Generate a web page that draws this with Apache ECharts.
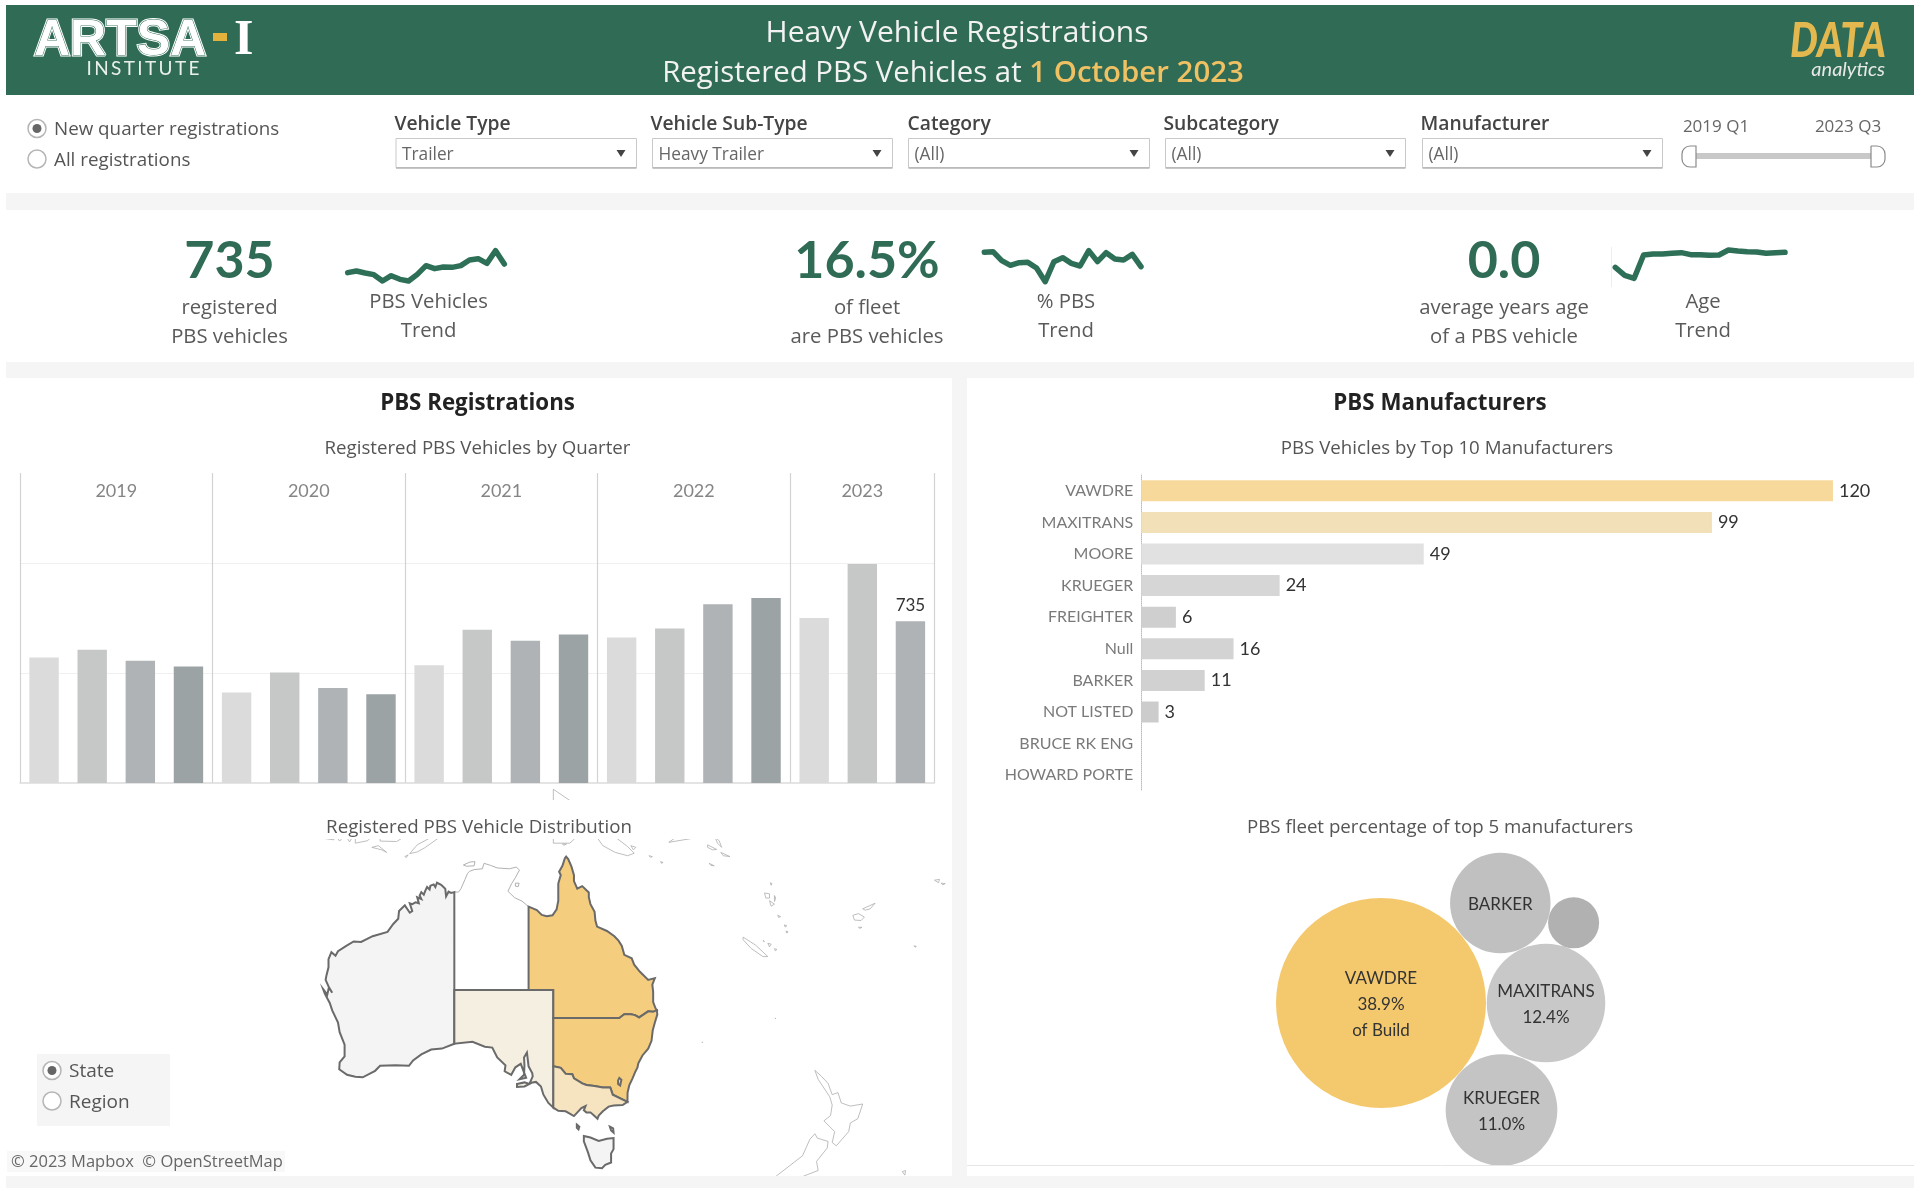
<!DOCTYPE html>
<html><head><meta charset="utf-8"><title>Heavy Vehicle Registrations</title>
<style>html,body{margin:0;padding:0;background:#fff}#c{width:1914px;height:1188px}</style>
<script src="https://cdn.jsdelivr.net/npm/echarts@6/dist/echarts.min.js"></script></head>
<body><div id="c"></div>
<script>
// ---- data ----
const quarters = ['2019 Q1','2019 Q2','2019 Q3','2019 Q4','2020 Q1','2020 Q2','2020 Q3','2020 Q4','2021 Q1','2021 Q2','2021 Q3','2021 Q4','2022 Q1','2022 Q2','2022 Q3','2022 Q4','2023 Q1','2023 Q2','2023 Q3'];
const registrations = [570,606,556,529,411,502,432,403,535,696,647,675,661,702,813,841,750,995,735];
const quarterColors = ['#dbdbdb','#c6c8c7','#afb3b5','#9ba3a4'];
const years = ['2019','2020','2021','2022','2023'];
const yearCentres = [2,6,10,14,17.5];
const makers = ['VAWDRE','MAXITRANS','MOORE','KRUEGER','FREIGHTER','Null','BARKER','NOT LISTED','BRUCE RK ENG','HOWARD PORTE'];
const makerCounts = [120,99,49,24,6,16,11,3,null,null];
const makerColors = ['#f7da9b','#f2e0b8','#e1e1e1','#d6d6d6','#cfcfcf','#d3d3d3','#d1d1d1','#cccccc','#ccc','#ccc'];
const bubbleNames = ['VAWDRE','MAXITRANS','KRUEGER','BARKER',''];
const bubbleShare = [38.9,12.4,11.0,8.9,2.3];
const bubbleX = [0,165,120.5,119.3,192.6];
const bubbleY = [0,0,-107,100,80.2];
const bubbleColors = ['#f4c96e','#c8c8c8','#c4c4c4','#c0c0c0','#b1b1b1'];
const trendVehicles = [52,57,51,46,27,43,32,27,47,73,64,69,68,73,90,94,80,118,78];
const trendPercent = [113,115,88,74,82,83,66,25,85,97,80,72,118,85,112,93,90,107,70];
const trendAge = [68,44,35,105,108,108,110,112,106,106,104,105,120,117,115,114,110,112,113];
const stateNames = ['Northern Territory','Western Australia','South Australia','Queensland','New South Wales','Victoria','Tasmania','ACT'];
const stateFills = ['#ffffff','#f4f4f5','#f5efe2','#f5cd7e','#f5cd7e','#f5e4bf','#f4f4f4','#f6e3b4'];
const mapOutlines = {
 'Northern Territory':[[[129,-14.9],[129.5,-14.9],[129.8,-14.5],[130.3,-13.4],[130.6,-12.7],[130.85,-12.45],[131.4,-12.25],[132.4,-12.15],[132.6,-11.5],[133.4,-11.75],[134.2,-12.05],[134.9,-12.1],[135.7,-12.15],[136.5,-11.95],[136.9,-12.3],[136.4,-13.2],[135.95,-13.9],[135.5,-14.8],[136.3,-15.55],[137.2,-15.95],[138,-16.6],[138,-26],[129,-26]],
   [[130.1,-11.7],[130.9,-11.35],[131.5,-11.3],[131.4,-11.8],[130.5,-11.85]],[[136.4,-13.85],[136.85,-13.85],[136.75,-14.25],[136.4,-14.2]]],
 'Western Australia':[[[129,-14.9],[128.6,-15],[128.3,-14.85],[128,-15.4],[127.9,-14.5],[127.4,-14.05],[126.9,-13.8],[126.7,-14.3],[126.5,-14],[126.1,-14.15],[126,-14.6],[125.7,-14.3],[125.5,-14.7],[125.3,-15.2],[125,-14.9],[124.8,-15.3],[125,-15.7],[124.5,-15.5],[124.7,-16.2],[124.3,-16.1],[123.9,-16.3],[123.6,-16.2],[123.9,-17.1],[123.6,-17.3],[123,-16.45],[122.3,-17.1],[122.2,-18],[121.6,-18.6],[120.9,-19.5],[119.1,-20],[117.7,-20.65],[116.8,-20.6],[115.9,-21.1],[114.9,-21.7],[114.6,-22.2],[114.1,-21.8],[113.75,-22.6],[113.75,-23.5],[113.5,-24.4],[113.4,-24.9],[113.9,-25.9],[114.2,-26.3],[113.8,-25.7],[113.6,-26.5],[113.1,-25.9],[113.3,-26.4],[113.9,-27.4],[114.2,-28.2],[114.9,-29.5],[115.1,-30.5],[115.7,-31.8],[115.7,-33],[115.1,-33.6],[115.05,-34.3],[116,-34.85],[117,-35.05],[117.9,-35.1],[119.4,-34.45],[120,-33.95],[121.9,-33.9],[123.5,-33.95],[124,-33.4],[125,-32.8],[126.2,-32.3],[127.5,-32.2],[129,-31.7]]],
 'South Australia':[[[129,-26],[141,-26],[141,-38.05],[140.4,-37.6],[139.8,-36.8],[139.5,-36],[138.9,-35.55],[138.15,-35.65],[138.5,-35],[138.45,-34.7],[138,-34],[137.8,-32.6],[137.45,-33.1],[137.5,-33.9],[137.45,-34.85],[136.9,-35.3],[137.7,-35.15],[137.05,-33.75],[136.4,-34.1],[135.9,-34.85],[135.1,-34.5],[135.2,-33.9],[134.2,-33.1],[133.6,-32.1],[132.7,-32],[131.2,-31.5],[129,-31.7]],
   [[136.6,-35.75],[137.5,-35.6],[138.1,-35.75],[137.5,-36],[136.6,-36.05]]],
 'Queensland':[[[138,-16.6],[139,-17],[139.6,-17.55],[140.2,-17.7],[140.9,-17.6],[141.4,-16.9],[141.6,-15.9],[141.6,-14.9],[141.6,-13.9],[141.9,-12.9],[141.7,-12.5],[142.1,-11.8],[142.4,-10.9],[142.55,-10.7],[142.8,-11],[143.2,-11.9],[143.5,-12.9],[143.5,-13.6],[143.9,-14.5],[144.5,-14.2],[145.3,-14.95],[145.3,-15.5],[145.5,-16.3],[146,-17.2],[146.1,-18.2],[146.3,-18.9],[147.5,-19.4],[148.4,-20],[148.9,-20.5],[149.3,-21.1],[149.6,-22.1],[150.5,-22.5],[150.8,-23.2],[151.5,-24],[152.5,-24.9],[153.3,-24.7],[153,-25.4],[153.1,-26.2],[153.1,-27.3],[153.4,-28],[153.55,-28.17],[153.1,-28.35],[152.5,-28.3],[152,-28.6],[151.4,-28.95],[150.9,-28.7],[150.4,-28.6],[149.6,-28.6],[149,-29],[141,-29],[141,-26],[138,-26]]],
 'New South Wales':[[[153.55,-28.17],[153.6,-28.65],[153.3,-29.5],[153.05,-30.3],[152.9,-31.4],[152.5,-32.2],[151.8,-32.9],[151.3,-33.7],[151.2,-34.1],[150.9,-34.6],[150.6,-35.2],[150.2,-35.9],[150,-36.6],[149.98,-37.5],[148.2,-36.8],[147.9,-36.1],[147,-36.1],[146,-35.95],[145,-35.85],[144.5,-35.7],[143.5,-35.2],[143.3,-34.8],[142.5,-34.75],[141.9,-34.15],[141,-34],[141,-29],[149,-29],[149.6,-28.6],[150.4,-28.6],[150.9,-28.7],[151.4,-28.95],[152,-28.6],[152.5,-28.3],[153.1,-28.35]]],
 'Victoria':[[[141,-34],[141.9,-34.15],[142.5,-34.75],[143.3,-34.8],[143.5,-35.2],[144.5,-35.7],[145,-35.85],[146,-35.95],[147,-36.1],[147.9,-36.1],[148.2,-36.8],[149.98,-37.5],[149.4,-37.8],[148.3,-37.85],[147.7,-37.95],[147,-38.4],[146.5,-38.8],[146.35,-39.1],[146,-38.85],[145.5,-38.5],[145,-38.5],[144.7,-38.3],[144.9,-37.9],[144.4,-38.1],[143.5,-38.85],[142.5,-38.4],[141.6,-38.35],[141,-38.05]]],
 'Tasmania':[[[144.7,-40.7],[145.5,-40.85],[146.5,-41.15],[147.5,-40.95],[148.3,-40.9],[148.3,-41.9],[148,-42.3],[148,-43.1],[147.3,-43.3],[146.9,-43.6],[146.1,-43.55],[145.5,-42.9],[145.2,-42.2],[144.7,-41.2]],
   [[143.85,-39.65],[144.15,-39.85],[144.05,-40.1],[143.85,-39.95]],[[147.85,-39.85],[148.25,-40],[148.3,-40.4],[148,-40.2]]],
 'ACT':[[[149,-35.15],[149.25,-35.35],[149.1,-35.9],[148.85,-35.75],[148.85,-35.4]]]
};
const otherLand = [
 [[172.7,-34.4],[173.5,-35],[174.3,-35.7],[174.8,-36.8],[175.5,-36.6],[175.9,-37.6],[177,-37.9],[178.5,-37.7],[177.9,-39.1],[177,-39.5],[176.8,-40.3],[175.3,-41.6],[174.8,-41.3],[175.1,-40.3],[173.8,-39.3],[174.6,-38.8],[174.8,-37.8],[174.5,-37],[173.1,-35.3]],
 [[172.7,-40.5],[173,-40.9],[174.3,-41.2],[174.2,-41.8],[172.9,-43],[173.1,-43.8],[171.3,-44.3],[170.7,-45.9],[169,-46.65],[167.5,-46.3],[166.5,-46],[168,-44.3],[171.2,-42.5],[172.1,-41]],
 [[183.3,-43.9],[183.7,-43.8],[183.6,-44.2]],
 [[164,-20.1],[165.5,-21],[167,-22.3],[166.4,-22.3],[165,-21.4],[164,-20.4]],
 [[167,-20.8],[167.4,-20.9],[167.2,-21.2]],[[167.8,-21.4],[168.1,-21.5],[167.9,-21.65]],[[166.4,-20.5],[166.6,-20.6],[166.5,-20.7]],
 [[166.6,-15],[167.2,-15.1],[167.2,-15.6],[166.75,-15.6]],[[167.2,-15.9],[167.8,-16.3],[167.4,-16.55]],[[168.2,-17.6],[168.55,-17.75],[168.3,-17.85]],[[169.2,-19.4],[169.45,-19.5],[169.3,-19.65]],[[169,-18.7],[169.3,-18.8],[169.1,-18.95]],[[167.8,-15.3],[167.95,-15.6],[167.8,-16]],[[167.3,-13.8],[167.5,-13.9],[167.4,-14.1]],
 [[177.3,-17.6],[178,-17.4],[178.7,-17.8],[178.3,-18.2],[177.5,-18.15]],[[178.5,-16.85],[179.3,-16.5],[180,-16.2],[179.4,-16.85],[178.8,-17]],[[178,-18.95],[178.4,-19],[178.1,-19.1]],
 [[187.2,-13.5],[187.8,-13.4],[187.7,-13.8]],[[188,-13.85],[188.5,-13.9],[188.2,-14.05]],[[184.7,-21.1],[185,-21.15],[184.85,-21.25]],
 [[159.7,-9.3],[160.8,-9.85],[160.3,-9.9],[159.7,-9.6]],[[160.6,-8.4],[161.1,-8.8],[161.4,-9.6],[160.9,-9.1]],[[161.3,-10.2],[162.4,-10.7],[161.6,-10.6]],[[159.9,-11.5],[160.5,-11.8],[160.1,-11.75]],[[155,-9],[158,-8.5],[159,-8],[157,-7.6]],
 [[141,-9.1],[143,-9.1],[144.5,-7.7],[146,-8],[147,-9.4],[148.5,-10.2],[150,-10.6],[150.8,-10.3],[150,-9.5],[148,-8],[146,-6],[141,-2.6]],
 [[142.1,-9.2],[142.6,-9.2],[142.3,-9.35]],[[152.6,-10.6],[153,-10.7],[152.8,-10.8]],[[154,-11.3],[154.3,-11.4],[154.1,-11.5]],[[150.4,-9.4],[151,-9.6],[150.7,-9.9]],
 [[123.6,-10.35],[124.5,-10.15],[125.5,-9.6],[127.2,-8.4],[126,-8.5],[124.5,-9.3]],[[119,-9.6],[120.2,-9.9],[120.8,-10.2],[119.8,-9.4]],[[123,-10.7],[123.4,-10.5],[123.2,-10.8]],[[120,-8.3],[123,-8.3],[122,-8.9],[120,-8.85]],[[117,-8.3],[119,-8.3],[118.5,-8.8],[117,-9.1]],[[115.9,-8.3],[116.7,-8.3],[116.3,-8.95]],[[114.5,-8.1],[115.6,-8.3],[115.1,-8.85]],[[106,-6],[114.5,-7.5],[114.4,-8.7],[108,-7.8]],
 [[159.05,-31.5],[159.12,-31.55],[159.06,-31.6]],[[167.9,-29],[168,-29.05],[167.95,-29.1]],[[158.9,-54.6],[159,-54.7],[158.9,-54.8]]
];
// ---- palette and fonts ----
const GREEN='#2f6b55', GOLD='#f0c163', FONT='"Open Sans", sans-serif', LATO='Lato, sans-serif';
const merc = lat => Math.log(Math.tan(Math.PI/4+lat*Math.PI/360))*180/Math.PI;
const imerc = y => (2*Math.atan(Math.exp(y*Math.PI/180))-Math.PI/2)*180/Math.PI;
echarts.registerMap('oceania',{type:'FeatureCollection',features:
 [{type:'Feature',properties:{name:'Other'},geometry:{type:'MultiPolygon',coordinates:otherLand.map(r=>[r.concat([r[0]])])}}]
 .concat(stateNames.map(n=>({type:'Feature',properties:{name:n},geometry:{type:'MultiPolygon',coordinates:mapOutlines[n].map(r=>[r.concat([r[0]])])}})))});
// ---- graphic helpers ----
const els=[];
function T(text,x,y,o={}){const f=o.f||FONT;els.push({type:'text',silent:true,z:o.z||20,x,y:y+(f===FONT?2:0),scaleX:o.sx||1,style:{text,x:0,y:0,fill:o.c||'#555',align:o.a||'center',verticalAlign:'middle',
  font:`${o.it?'italic ':''}${o.w||400} ${o.s||18.7}px ${f}`,rich:o.rich,stroke:o.st,lineWidth:o.lw||0}});}
function R(x,y,w,h,fill,z=5,o={}){els.push({type:'rect',silent:true,z,shape:{x,y,width:w,height:h,r:o.r||0},style:{fill,stroke:o.st,lineWidth:o.lw||0}});}
function Radio(x,y,on){els.push({type:'circle',silent:true,z:20,shape:{cx:x,cy:y,r:9},style:{fill:'#fff',stroke:'#b5b5b5',lineWidth:1.5}});
  if(on)els.push({type:'circle',silent:true,z:21,shape:{cx:x,cy:y,r:4.5},style:{fill:'#666'}});}
function Line(x1,y1,x2,y2,c,lw,z=6){els.push({type:'line',silent:true,z,shape:{x1,y1,x2,y2},style:{stroke:c,lineWidth:lw}});}
// page bands
R(0,800,952,39,'#fff',4);
R(6,193,1908,17,'#f5f5f5'); R(6,362,1908,16,'#f5f5f5'); R(6,1176,1908,12,'#f5f5f5'); R(952,378,15,798,'#f5f5f5');
Line(967,1165.5,1914,1165.5,'#e6e6e6',1);
// header
R(6,5,1908,90,GREEN,6);
const logo={s:50,w:700,f:'"Liberation Sans", sans-serif',a:'left'};
T('ARTSA',34,41,{...logo,c:'#fff',st:'#fff',lw:3});
T('ARTSA',34,41,{...logo,c:'#fff',st:GREEN,lw:1,z:21});
R(213,33,14,8,'#e3b23c',20);
T('I',234,41,{...logo,f:'"Liberation Serif", serif',c:'#fff'});
T('I\u2009N\u2009S\u2009T\u2009I\u2009T\u2009U\u2009T\u2009E',143,69,{s:19,c:'#e9f0ec',f:LATO});
T('Heavy Vehicle Registrations',957,31,{s:30,c:'#f2f2f2'});
T('{w|Registered PBS Vehicles at }{g|1 October 2023}',953,72,{s:29.4,rich:{w:{fill:'#f2f2f2',font:`400 29.4px ${FONT}`},g:{fill:GOLD,font:`600 29.4px ${FONT}`}}});
T('DATA',1790,42,{s:48,w:900,it:true,c:'#e2b84f',a:'left',sx:.82,f:LATO});
T('analytics',1885,70,{s:20,it:true,c:'#e8e8e8',a:'right',f:LATO});
// radios
Radio(37,128.5,true); T('New quarter registrations',54,128,{a:'left',s:18.8,c:'#555'});
Radio(37,159,false); T('All registrations',54,158.5,{a:'left',s:18.8,c:'#555'});
// filters
[['Vehicle Type','Trailer',394.5,396,636.5],['Vehicle Sub-Type','Heavy Trailer',650.5,652.5,892.5],['Category','(All)',907.5,908.5,1149.5],['Subcategory','(All)',1163.5,1165.5,1405.5],['Manufacturer','(All)',1420.5,1422.5,1662.5]].forEach(f=>{
  T(f[0],f[2],123,{a:'left',s:19.3,w:600,c:'#444'});
  R(f[3],138.5,f[4]-f[3],29,'#fff',7,{st:'#c9c9c9',lw:1});
  Line(f[3],168,f[4],168,'#b5b5b5',1.5,8);
  T(f[1],f[3]+6,153,{a:'left',s:17.3,c:'#666'});
  els.push({type:'polygon',silent:true,z:9,shape:{points:[[f[4]-20,150],[f[4]-11,150],[f[4]-15.5,157]]},style:{fill:'#444'}});
});
// slider
T('2019 Q1',1716,125,{s:17,c:'#666'}); T('2023 Q3',1848,125,{s:17,c:'#666'});
R(1696,153,175,6,'#c8c8c8',7);
R(1682,146,14,21,'#fff',8,{r:[8,0,0,8],st:'#8a8a8a',lw:1.2}); R(1871,146,14,21,'#fff',8,{r:[0,8,8,0],st:'#8a8a8a',lw:1.2});
// KPIs
[['735','registered','PBS vehicles',229.5],['16.5%','of fleet','are PBS vehicles',867],['0.0','average years age','of a PBS vehicle',1504]].forEach(k=>{
  T(k[0],k[3],261,{s:52,w:700,c:GREEN,f:LATO}); T(k[1],k[3],306.5,{s:20.3,c:'#5a5a5a'}); T(k[2],k[3],335.5,{s:20.3,c:'#5a5a5a'});
});
[['PBS Vehicles','Trend',428.6],['% PBS','Trend',1066],['Age','Trend',1703]].forEach(k=>{
  T(k[0],k[2],300,{s:20.3,c:'#5a5a5a'}); T(k[1],k[2],329,{s:20.3,c:'#5a5a5a'});
});
Line(1611.5,247,1611.5,287,'#eeeeee',1);
// section heads
T('PBS Registrations',477.5,401.5,{s:22.3,w:700,c:'#222'});
T('PBS Manufacturers',1440,401.5,{s:22.3,w:700,c:'#222'});
T('Registered PBS Vehicles by Quarter',477.5,447,{c:'#555'});
T('PBS Vehicles by Top 10 Manufacturers',1447,447,{c:'#555'});
T('Registered PBS Vehicle Distribution',479,826,{c:'#555'});
T('PBS fleet percentage of top 5 manufacturers',1440,826,{c:'#555'});
// map furniture
R(37,1054,133,72,'#f5f5f5',15);
Radio(52,1070.5,true); T('State',69,1070,{a:'left',s:19,c:'#555'});
Radio(52,1101,false); T('Region',69,1100.5,{a:'left',s:19,c:'#555'});
R(7,1151,278,21,'#f8f8f8',15);
T('© 2023 Mapbox  © OpenStreetMap',11,1160,{a:'left',s:16.5,c:'#666'});
// ---- series helpers ----
function spark(i,data,left,right){
  return {grid:{left,width:right-left,top:240,height:50},
    x:{gridIndex:i,type:'category',data:quarters,boundaryGap:false,show:false},
    y:{gridIndex:i,type:'value',min:0,max:150,show:false},
    s:{type:'line',xAxisIndex:4+i-3,yAxisIndex:3+i-3,data,showSymbol:false,silent:true,z:10,
       lineStyle:{color:'#2e6f57',width:5.5,cap:'round',join:'round'}}};
}
const sparks=[spark(3,trendVehicles,347.7,504.3),spark(4,trendPercent,984.3,1141),spark(5,trendAge,1615.3,1785)];
const chart=echarts.init(document.getElementById('c'),null,{renderer:'canvas',width:1914,height:1188});
chart.setOption({
  animation:false,backgroundColor:'#fff',tooltip:{show:false},
  textStyle:{fontFamily:FONT},
  graphic:{elements:els},
  grid:[
    {left:20,width:914.5,top:473,height:310},
    {left:1141.3,width:749.3,top:475,height:316},
    {left:967,width:947,top:840,height:330}
  ].concat(sparks.map(s=>s.grid)),
  geo:{map:'oceania',silent:true,left:6,top:839,width:945,height:337,z:1,
    boundingCoords:[[74.66,-8.6],[189.2,-44.28]],
    projection:{project:p=>[p[0],-merc(p[1])],unproject:p=>[p[0],imerc(-p[1])]},
    roam:false,label:{show:false},
    itemStyle:{areaColor:'#fff',borderColor:'#adadad',borderWidth:0.8},
    emphasis:{disabled:true},select:{disabled:true},
    regions:stateNames.map((n,i)=>({name:n,itemStyle:{areaColor:stateFills[i],
      borderColor:i===0?'#a8a8a8':'#6a6a6a',borderWidth:i===0?0.9:2}}))},
  xAxis:[
    {gridIndex:0,type:'category',data:quarters,axisLabel:{show:false},axisTick:{show:false},axisLine:{lineStyle:{color:'#dcdcdc',width:1.5}},z:3},
    {gridIndex:0,type:'value',min:0,max:19,interval:4,position:'top',axisLine:{show:false},axisTick:{show:false},axisLabel:{show:false},
      splitLine:{show:true,showMinLine:true,showMaxLine:true,lineStyle:{color:'#d2d2d2',width:1.2}}},
    {gridIndex:1,type:'value',min:0,max:130,show:false},
    {gridIndex:2,type:'value',min:-414,max:533,show:false}
  ].concat(sparks.map(s=>s.x)),
  yAxis:[
    {gridIndex:0,type:'value',min:0,max:1409,interval:500,axisLabel:{show:false},axisTick:{show:false},axisLine:{show:false},
      splitLine:{show:true,showMinLine:false,showMaxLine:false,lineStyle:{color:'#f0f0f0',width:1.2}}},
    {gridIndex:1,type:'category',data:makers,inverse:true,axisTick:{show:false},
      axisLine:{lineStyle:{color:'#bdbdbd',type:'dotted',width:1}},
      axisLabel:{color:'#7a7a7a',fontSize:16,margin:8,fontFamily:LATO}},
    {gridIndex:2,type:'value',min:-167,max:163,show:false}
  ].concat(sparks.map(s=>s.y)),
  series:[
    {type:'bar',xAxisIndex:0,yAxisIndex:0,barWidth:29.4,silent:true,z:5,
      data:registrations.map((v,i)=>({value:v,itemStyle:{color:quarterColors[i%4]},
        label:{show:i===registrations.length-1,position:'top',distance:7,color:'#333',fontSize:17,fontFamily:LATO}}))},
    {type:'scatter',xAxisIndex:1,yAxisIndex:0,symbolSize:0,silent:true,z:6,
      data:years.map((y,i)=>[yearCentres[i],1328,y]),
      label:{show:true,position:'inside',formatter:p=>p.value[2],color:'#666',fontSize:18,fontFamily:LATO}},
    {type:'bar',xAxisIndex:2,yAxisIndex:1,barWidth:21,silent:true,z:5,
      data:makerCounts.map((v,i)=>({value:v,itemStyle:{color:makerColors[i]}})),
      label:{show:true,position:'right',distance:6,color:'#333',fontSize:18,fontFamily:LATO}},
    {type:'scatter',xAxisIndex:3,yAxisIndex:2,silent:true,z:5,
      data:bubbleShare.map((v,i)=>({value:[bubbleX[i],bubbleY[i],v],name:bubbleNames[i],itemStyle:{color:bubbleColors[i],opacity:1},
        label:{show:!!bubbleNames[i],
          formatter:i===0?`${bubbleNames[i]}\n${v.toFixed(1)}%\nof Build`:(i<3?`${bubbleNames[i]}\n${v.toFixed(1)}%`:bubbleNames[i])}})),
      symbolSize:p=>33.67*Math.sqrt(p[2]),
      label:{position:'inside',offset:[0,2],color:'#333',fontSize:17,lineHeight:26,fontFamily:LATO}}
  ].concat(sparks.map(s=>s.s))
});
</script></body></html>
